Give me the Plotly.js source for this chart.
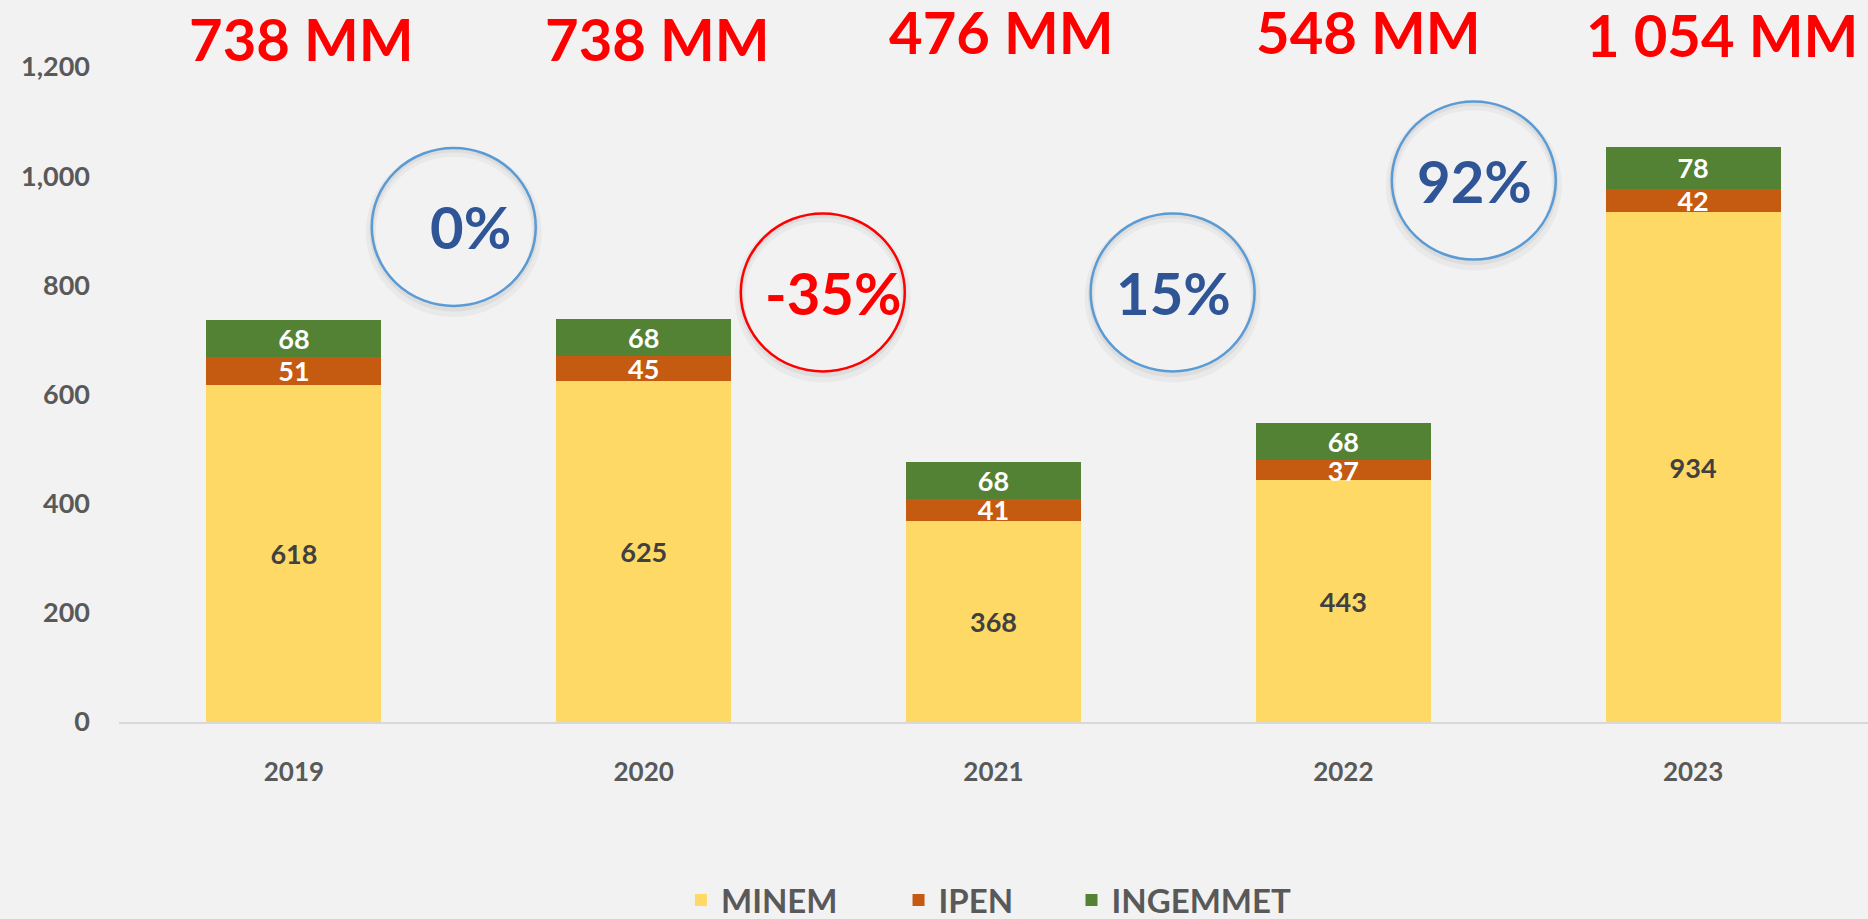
<!DOCTYPE html>
<html>
<head>
<meta charset="utf-8">
<script src="https://cdn.plot.ly/plotly-3.0.1.min.js"></script>
<style>
  html, body { margin: 0; padding: 0; background: #F2F2F2; }
  #chart { width: 1868px; height: 919px; }
</style>
</head>
<body>
<div id="chart"></div>
<script>
// ---- data ----
const years = ["2019", "2020", "2021", "2022", "2023"];
const minem = [618, 625, 368, 443, 934];
const ipen = [51, 45, 41, 37, 42];
const ingemmet = [68, 68, 68, 68, 78];
const totalLabels = ["738 MM", "738 MM", "476 MM", "548 MM", "1 054 MM"];
const changeLabels = ["0%", "-35%", "15%", "92%"];
const changeNegative = [false, true, false, false];
const yTicks = [0, 200, 400, 600, 800, 1000, 1200];

// ---- layout/style constants (positions, not data) ----
const FONT = "Lato, Carlito, Calibri, 'Noto Sans', sans-serif";
const totalShift = [8, 14, 8, 25, 29];              // px x-shift of the total labels
const totalY = [1.044, 1.044, 1.054, 1.054, 1.050]; // paper y of total labels
const circleX = [0.457, 1.512, 2.512, 3.373];       // x-anchors (category index)
const circleY = [907, 787, 787, 992];               // y-anchors (data units)
const circleTextShift = [17, 10, 1, 1];
const legendX = [0.3213, 0.4457, 0.5446];           // paper x of each legend entry

const barFontWhite = { family: FONT, size: 27, color: "#FFFFFF", weight: 700 };
const barFontDark = { family: FONT, size: 27, color: "#404040", weight: 700 };

function barTrace(name, vals, color, font, legendId) {
  return {
    type: "bar",
    name: name,
    legend: legendId,
    x: years,
    y: vals,
    text: vals.map(v => String(v)),
    textposition: "inside",
    insidetextanchor: "middle",
    constraintext: "none",
    textangle: 0,
    insidetextfont: font,
    textfont: font,
    marker: { color: color, line: { width: 0 } },
    hoverinfo: "skip"
  };
}

const traces = [
  barTrace("MINEM", minem, "#FFD966", barFontDark, "legend"),
  barTrace("IPEN", ipen, "#C55A11", barFontWhite, "legend2"),
  barTrace("INGEMMET", ingemmet, "#548235", barFontWhite, "legend3")
];

const annotations = [];
totalLabels.forEach((t, i) => {
  annotations.push({
    x: i, xref: "x", y: totalY[i], yref: "paper",
    text: t, showarrow: false, xshift: totalShift[i],
    xanchor: "center", yanchor: "middle",
    font: { family: FONT, size: 58, color: "#FF0000", weight: 700 }
  });
});

const shapes = [];
changeLabels.forEach((t, i) => {
  const lineColor = changeNegative[i] ? "#FF0000" : "#5B9BD5";
  // soft shadow
  shapes.push({
    type: "circle", xref: "x", yref: "y",
    xsizemode: "pixel", ysizemode: "pixel",
    xanchor: circleX[i], yanchor: circleY[i],
    x0: -83, x1: 83, y0: -85, y1: 75,
    line: { color: "rgba(0,0,0,0.035)", width: 10 },
    layer: "above"
  });
  shapes.push({
    type: "circle", xref: "x", yref: "y",
    xsizemode: "pixel", ysizemode: "pixel",
    xanchor: circleX[i], yanchor: circleY[i],
    x0: -82, x1: 82, y0: -82, y1: 77,
    line: { color: "rgba(0,0,0,0.05)", width: 5 },
    layer: "above"
  });
  shapes.push({
    type: "circle", xref: "x", yref: "y",
    xsizemode: "pixel", ysizemode: "pixel",
    xanchor: circleX[i], yanchor: circleY[i],
    x0: -82, x1: 82, y0: -79, y1: 79,
    line: { color: lineColor, width: 2.5 },
    layer: "above"
  });
  annotations.push({
    x: circleX[i], xref: "x", y: circleY[i], yref: "y",
    text: t, showarrow: false, xshift: circleTextShift[i],
    xanchor: "center", yanchor: "middle",
    font: { family: FONT, size: 58, color: changeNegative[i] ? "#FF0000" : "#2F5597", weight: 700 }
  });
});

function legendBox(x) {
  return {
    orientation: "h",
    traceorder: "normal",
    x: x, xref: "paper", xanchor: "left",
    y: -0.272, yanchor: "middle",
    font: { family: FONT, size: 33, color: "#595959", weight: 700 },
    itemwidth: 30,
    itemclick: false,
    itemdoubleclick: false,
    bgcolor: "rgba(0,0,0,0)",
    borderwidth: 0
  };
}

const layout = {
  width: 1868,
  height: 919,
  paper_bgcolor: "#F2F2F2",
  plot_bgcolor: "#F2F2F2",
  margin: { l: 119, r: 0, t: 67, b: 197, pad: 0, autoexpand: false },
  barmode: "stack",
  bargap: 0.5,
  showlegend: true,
  font: { family: FONT, color: "#595959" },
  xaxis: {
    type: "category",
    range: [-0.5, 4.5],
    showgrid: false,
    zeroline: false,
    showline: true,
    linecolor: "#D9D9D9",
    linewidth: 2,
    ticks: "",
    ticklabelstandoff: 26,
    tickfont: { family: FONT, size: 26, color: "#595959", weight: 700 },
    fixedrange: true
  },
  yaxis: {
    range: [0, 1200],
    tickvals: yTicks,
    tickformat: ",",
    showgrid: false,
    zeroline: false,
    showline: false,
    ticks: "",
    ticklabelstandoff: 28,
    tickfont: { family: FONT, size: 27, color: "#595959", weight: 700 },
    fixedrange: true
  },
  legend: legendBox(legendX[0]),
  legend2: legendBox(legendX[1]),
  legend3: legendBox(legendX[2]),
  annotations: annotations,
  shapes: shapes
};

Plotly.newPlot("chart", traces, layout, { displayModeBar: false, staticPlot: true });
</script>
</body>
</html>
